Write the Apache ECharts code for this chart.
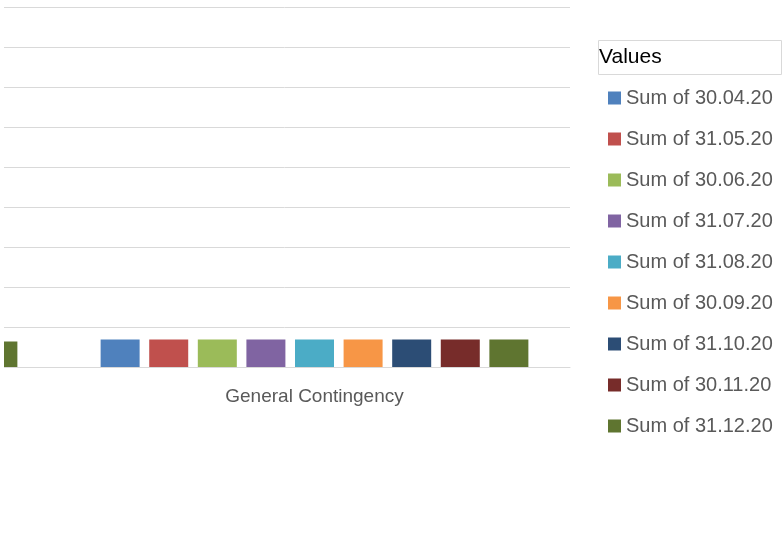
<!DOCTYPE html>
<html lang="en">
<head>
    <meta charset="UTF-8">
    <title>General Contingency</title>
    <script src="https://cdn.jsdelivr.net/npm/echarts@6/dist/echarts.min.js"></script>
    <style>
        html, body { margin: 0; padding: 0; background: #fff; }
        #main { width: 783px; height: 550px; }
    </style>
</head>
<body>
<div id="main"></div>
<script type="text/javascript">
    // categories (the first one sits off to the left, only its last bar shows)
    var categories = ['', 'General Contingency'];
    var seriesNames = ['Sum of 30.04.20', 'Sum of 31.05.20', 'Sum of 30.06.20', 'Sum of 31.07.20',
        'Sum of 31.08.20', 'Sum of 30.09.20', 'Sum of 31.10.20', 'Sum of 30.11.20', 'Sum of 31.12.20'];
    var colors = ['#4F81BD', '#C0504D', '#9BBB59', '#8064A2', '#4BACC6', '#F79646', '#2C4D75', '#772C2A', '#5F7530'];
    // values per series: [previous category, General Contingency]
    var v3004 = [0.64, 0.69];
    var v3105 = [0.64, 0.69];
    var v3006 = [0.64, 0.69];
    var v3107 = [0.64, 0.69];
    var v3108 = [0.64, 0.69];
    var v3009 = [0.64, 0.69];
    var v3110 = [0.64, 0.69];
    var v3011 = [0.64, 0.69];
    var v3112 = [0.64, 0.69];
    var allValues = [v3004, v3105, v3006, v3107, v3108, v3009, v3110, v3011, v3112];

    var chart = echarts.init(document.getElementById('main'));

    var series = [];
    for (var i = 0; i < seriesNames.length; i++) {
        series.push({
            name: seriesNames[i],
            type: 'bar',
            barWidth: 39,
            barGap: '24.6%',
            itemStyle: { color: colors[i] },
            data: allValues[i]
        });
    }

    var option = {
        animation: false,
        color: colors,
        title: {
            text: 'Values',
            left: 598,
            top: 40,
            padding: [5, 120, 6, 1],
            borderColor: '#d9d9d9',
            borderWidth: 1,
            textStyle: {
                fontFamily: 'Liberation Sans',
                fontSize: 21,
                fontWeight: 'normal',
                color: '#000',
                lineHeight: 24
            }
        },
        legend: {
            orient: 'vertical',
            left: 608,
            top: 88,
            padding: 0,
            icon: 'rect',
            itemWidth: 13,
            itemHeight: 13,
            itemGap: 21,
            textStyle: {
                fontFamily: 'Liberation Sans',
                fontSize: 20,
                color: '#595959',
                lineHeight: 20
            },
            data: seriesNames
        },
        grid: {
            left: -452,
            right: 213,
            top: 7,
            bottom: 183,
            outerBoundsMode: 'none',
            containLabel: false
        },
        xAxis: {
            type: 'category',
            data: categories,
            axisLine: { lineStyle: { color: '#d9d9d9', width: 1 } },
            axisTick: { length: 7, lineStyle: { color: '#d9d9d9' } },
            axisLabel: {
                margin: 20,
                fontFamily: 'Liberation Sans',
                fontSize: 19,
                color: '#595959'
            }
        },
        yAxis: {
            type: 'value',
            min: 0,
            max: 9,
            interval: 1,
            axisLabel: { show: false },
            axisLine: { show: false },
            axisTick: { show: false },
            splitLine: { lineStyle: { color: '#d9d9d9', width: 1 } }
        },
        graphic: [
            {
                // plot area is cut at x = 4 in the original
                type: 'rect',
                left: 0,
                top: 0,
                z: 100,
                shape: { width: 4, height: 550 },
                style: { fill: '#fff' }
            }
        ],
        series: series
    };

    chart.setOption(option);
</script>
</body>
</html>
